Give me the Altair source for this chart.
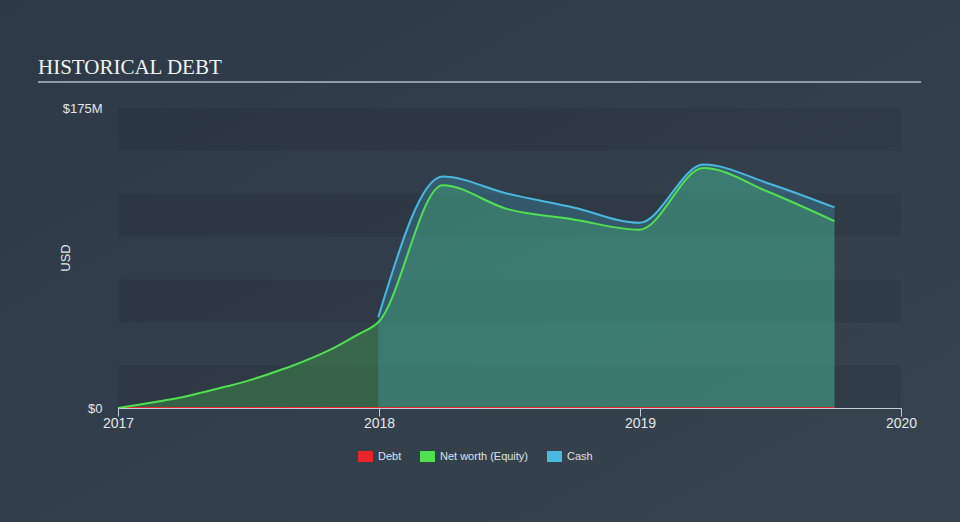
import altair as alt
import pandas as pd

# ---- data ----
nw_dates = ["2017-01-01", "2017-02-01", "2017-03-01", "2017-04-01", "2017-05-01",
            "2017-06-01", "2017-07-01", "2017-08-01", "2017-09-01", "2017-10-01",
            "2017-11-01", "2017-12-01", "2017-12-31", "2018-03-31", "2018-06-30",
            "2018-09-30", "2018-12-31", "2019-03-31", "2019-06-30", "2019-09-30"]
net_worth = [0, 2.0, 4.0, 6.3, 9.3, 12.5, 15.8, 20, 24.5, 29.5, 35.5, 42.5, 50,
             130, 116, 110, 104, 140, 126, 109]

debt_dates = ["2017-01-01", "2017-12-31", "2018-03-31", "2018-06-30", "2018-09-30",
              "2018-12-31", "2019-03-31", "2019-06-30", "2019-09-30"]
debt = [0, 0, 0, 0, 0, 0, 0, 0, 0]

cash_dates = ["2017-12-31", "2018-03-31", "2018-06-30", "2018-09-30",
              "2018-12-31", "2019-03-31", "2019-06-30", "2019-09-30"]
cash = [53, 135, 125, 117, 108, 142, 131, 117]

series_names = ["Debt", "Net worth (Equity)", "Cash"]
series_colors = ["#e8262a", "#4fe14f", "#48b9e0"]

band_lo = [0, 50, 100, 150]
band_hi = [25, 75, 125, 175]

T = "T00:00:00"
rows = []
for d, v in zip(debt_dates, debt):
    rows.append({"date": d + T, "value": v, "series": "Debt"})
for d, v in zip(nw_dates, net_worth):
    rows.append({"date": d + T, "value": v, "series": "Net worth (Equity)"})
for d, v in zip(cash_dates, cash):
    rows.append({"date": d + T, "value": v, "series": "Cash"})
df = pd.DataFrame(rows)

bands = pd.DataFrame({"lo": band_lo, "hi": band_hi,
                      "x0": ["2017-01-01" + T] * 4, "x1": ["2020-01-01" + T] * 4})

legend_df = pd.DataFrame({"series": series_names, "date": ["2017-01-01" + T] * 3, "value": [0, 0, 0]})

FONT = "Liberation Sans"
W, H = 783, 300

xscale = alt.Scale(domain=["2017-01-01" + T, "2020-01-01" + T])
yscale = alt.Scale(domain=[0, 175], nice=False)
cscale = alt.Scale(domain=series_names, range=series_colors)

legend = alt.Legend(
    title=None, orient="none", legendX=240, legendY=341, direction="horizontal",
    symbolType="M-1,-0.733H1V0.733H-1Z", symbolSize=225, symbolStrokeWidth=0,
    symbolOpacity=1, zindex=2,
    labelFont=FONT, labelFontSize=11, labelColor="#dfe3e8", labelOffset=5,
    columnPadding=18, padding=0,
)
color_enc = alt.Color("series:N", scale=cscale, legend=legend)

one = pd.DataFrame({"a": [0]})

bg = alt.Chart(one).mark_rect(
    color=alt.Gradient(gradient="linear", x1=0, y1=0, x2=1, y2=1,
                       stops=[alt.GradientStop(offset=0, color="#2d3947"),
                              alt.GradientStop(offset=1, color="#37444f")])
).encode(x=alt.value(-118), x2=alt.value(842), y=alt.value(-108), y2=alt.value(414))

band_layer = alt.Chart(bands).mark_rect(color="#000000", opacity=0.08).encode(
    x=alt.X("x0:T", scale=xscale),
    x2="x1:T",
    y=alt.Y("lo:Q", scale=yscale),
    y2="hi:Q",
)

area_nw = alt.Chart(df).transform_filter(alt.datum.series == "Net worth (Equity)").mark_area(
    interpolate="monotone", opacity=0.25
).encode(
    x=alt.X("date:T", scale=xscale),
    y=alt.Y("value:Q", scale=yscale, stack=None),
    color=color_enc,
)
area_cash = alt.Chart(df).transform_filter(alt.datum.series == "Cash").mark_area(
    interpolate="monotone", opacity=0.25
).encode(
    x=alt.X("date:T", scale=xscale),
    y=alt.Y("value:Q", scale=yscale, stack=None),
    color=color_enc,
)

legend_layer = alt.Chart(legend_df).mark_square(opacity=0, filled=True, size=1).encode(
    x=alt.X("date:T", scale=xscale),
    y=alt.Y("value:Q", scale=yscale),
    color=color_enc,
)

lines = alt.Chart(df).mark_line(interpolate="monotone", strokeWidth=2).encode(
    x=alt.X("date:T", scale=xscale,
            axis=alt.Axis(title=None, format="%Y", zindex=1,
                          values=[alt.DateTime(year=2017, month=1, date=1),
                                  alt.DateTime(year=2018, month=1, date=1),
                                  alt.DateTime(year=2019, month=1, date=1),
                                  alt.DateTime(year=2020, month=1, date=1)],
                          grid=False, domainColor="#c5ccd6", domainWidth=1,
                          tickColor="#c5ccd6", tickSize=8, tickWidth=1,
                          labelColor="#e4e7eb", labelFont=FONT, labelFontSize=14,
                          labelPadding=0, labelFlush=False)),
    y=alt.Y("value:Q", scale=yscale,
            axis=alt.Axis(title=None, values=[0, 175], grid=False, domain=False, ticks=False,
                          zindex=1,
                          labelExpr="datum.value == 0 ? '$0' : '$175M'",
                          labelColor="#e4e7eb", labelFont=FONT, labelFontSize=13,
                          labelPadding=16)),
    color=color_enc,
    order=alt.Order("date:T"),
)

title_text = alt.Chart(one).mark_text(
    text="HISTORICAL DEBT", font="Liberation Serif", fontSize=21, color="#f2f2f2",
    align="left", baseline="alphabetic"
).encode(x=alt.value(-80), y=alt.value(-34))

title_rule = alt.Chart(one).mark_rule(color="#b4bac3", strokeWidth=1.5).encode(
    x=alt.value(-80), x2=alt.value(803), y=alt.value(-26))

usd = alt.Chart(one).mark_text(
    text="USD", font=FONT, fontSize=13, color="#e4e7eb", angle=270,
    align="center", baseline="middle"
).encode(x=alt.value(-52), y=alt.value(150))

chart = alt.layer(bg, band_layer, area_nw, area_cash, lines, legend_layer,
                  title_text, title_rule, usd).properties(
    width=W, height=H,
    padding={"left": 118, "top": 108, "right": 59, "bottom": 114},
    autosize="none",
    background="#323f4d",
).configure_view(stroke=None)

chart.save("out.html", embed_options={"renderer": "svg", "actions": False})
